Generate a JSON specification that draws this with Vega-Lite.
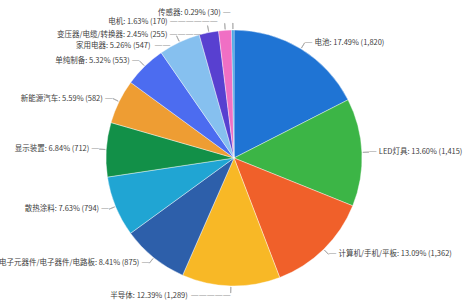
{
  "$schema": "https://vega.github.io/schema/vega-lite/v6.json",
  "width": 468,
  "height": 296,
  "autosize": {"type": "none"},
  "padding": {"left": 0, "top": 10, "right": 4, "bottom": 0},
  "background": "white",
  "view": {"stroke": null},
  "config": {"text": {"font": "Noto Sans CJK SC", "fontSize": 7.5, "color": "#404040"}},
  "data": {"values": [
    {"name": "电池", "pct": 17.49, "count": 1820},
    {"name": "LED灯具", "pct": 13.60, "count": 1415},
    {"name": "计算机/手机/平板", "pct": 13.09, "count": 1362},
    {"name": "半导体", "pct": 12.39, "count": 1289},
    {"name": "电子元器件/电子器件/电路板", "pct": 8.41, "count": 875},
    {"name": "散热涂料", "pct": 7.63, "count": 794},
    {"name": "显示装置", "pct": 6.84, "count": 712},
    {"name": "新能源汽车", "pct": 5.59, "count": 582},
    {"name": "单纯制备", "pct": 5.32, "count": 553},
    {"name": "家用电器", "pct": 5.26, "count": 547},
    {"name": "变压器/电缆/转换器", "pct": 2.45, "count": 255},
    {"name": "电机", "pct": 1.63, "count": 170},
    {"name": "传感器", "pct": 0.29, "count": 30}
  ]},
  "transform": [
    {"window": [{"op": "sum", "field": "count", "as": "cum"}], "sort": [{"field": "count", "order": "descending"}], "frame": [null, 0]},
    {"calculate": "datum.cum - datum.count", "as": "start"},
    {"calculate": "datum.cum - datum.count / 2", "as": "mid"},
    {"calculate": "datum.mid + 2", "as": "mid2"},
    {"joinaggregate": [{"op": "sum", "field": "count", "as": "total"}]},
    {"calculate": "datum.mid < datum.total / 2 ? 'R' : 'L'", "as": "side"},
    {"calculate": "datum.name + ': ' + format(datum.pct, '.2f') + '% (' + format(datum.count, ',') + ')'", "as": "label"}
  ],
  "layer": [
    {
      "mark": {"type": "arc", "outerRadius": 128, "stroke": "white", "strokeWidth": 0.4},
      "encoding": {
        "theta": {"field": "start", "type": "quantitative", "stack": null, "scale": {"domain": [0, 10404]}},
        "theta2": {"field": "cum"},
        "color": {"field": "name", "type": "nominal", "legend": null, "scale": {
          "domain": ["电池", "LED灯具", "计算机/手机/平板", "半导体", "电子元器件/电子器件/电路板", "散热涂料", "显示装置", "新能源汽车", "单纯制备", "家用电器", "变压器/电缆/转换器", "电机", "传感器"],
          "range": ["#1f74d4", "#3cb546", "#f0602a", "#f8b826", "#2d5faa", "#20a5d3", "#129048", "#ee9d33", "#4c6cf0", "#86c0ef", "#5840d0", "#f06fc4", "#39a0e0"]}}
      }
    },
    {
      "mark": {"type": "arc", "innerRadius": 129, "outerRadius": 135, "filled": false, "stroke": "#a8a8a8", "strokeWidth": 0.8},
      "encoding": {
        "theta": {"field": "mid", "type": "quantitative", "stack": null, "scale": {"domain": [0, 10404]}},
        "theta2": {"field": "mid2"}
      }
    },
    {
      "transform": [{"filter": "datum.side == 'R'"}],
      "mark": {"type": "text", "radius": 135, "align": "left", "baseline": "middle", "font": "DejaVu Sans", "fontSize": 8, "color": "#a8a8a8", "text": "—"},
      "encoding": {"theta": {"field": "mid", "type": "quantitative", "stack": null, "scale": {"domain": [0, 10404]}}}
    },
    {
      "transform": [{"filter": "datum.side == 'R'"}],
      "mark": {"type": "text", "radius": 135, "align": "left", "baseline": "middle", "dx": 10},
      "encoding": {
        "theta": {"field": "mid", "type": "quantitative", "stack": null, "scale": {"domain": [0, 10404]}},
        "text": {"field": "label"}
      }
    },
    {
      "transform": [{"filter": {"field": "name", "oneOf": ["电子元器件/电子器件/电路板", "散热涂料", "显示装置", "新能源汽车", "单纯制备"]}}],
      "mark": {"type": "text", "radius": 135, "align": "right", "baseline": "middle", "font": "DejaVu Sans", "fontSize": 8, "color": "#a8a8a8", "text": "—"},
      "encoding": {"theta": {"field": "mid", "type": "quantitative", "stack": null, "scale": {"domain": [0, 10404]}}}
    },
    {
      "transform": [{"filter": {"field": "name", "oneOf": ["电子元器件/电子器件/电路板", "散热涂料", "显示装置", "新能源汽车", "单纯制备"]}}],
      "mark": {"type": "text", "radius": 135, "align": "right", "baseline": "middle", "dx": -10},
      "encoding": {
        "theta": {"field": "mid", "type": "quantitative", "stack": null, "scale": {"domain": [0, 10404]}},
        "text": {"field": "label"}
      }
    },
    {
      "transform": [{"filter": "datum.name == '半导体'"}],
      "mark": {"type": "text", "radius": 135, "align": "right", "baseline": "middle", "dy": 3, "font": "DejaVu Sans", "fontSize": 8, "color": "#a8a8a8", "text": "—————"},
      "encoding": {"theta": {"field": "mid", "type": "quantitative", "stack": null, "scale": {"domain": [0, 10404]}}}
    },
    {
      "transform": [{"filter": "datum.name == '半导体'"}],
      "mark": {"type": "text", "radius": 135, "align": "right", "baseline": "middle", "dx": -43, "dy": 3},
      "encoding": {
        "theta": {"field": "mid", "type": "quantitative", "stack": null, "scale": {"domain": [0, 10404]}},
        "text": {"field": "label"}
      }
    },
    {
      "transform": [{"filter": "datum.name == '家用电器'"}],
      "mark": {"type": "text", "radius": 135, "align": "right", "baseline": "middle", "dx": -6, "dy": 10, "font": "DejaVu Sans", "fontSize": 8, "color": "#a8a8a8", "text": "——"},
      "encoding": {"theta": {"field": "mid", "type": "quantitative", "stack": null, "scale": {"domain": [0, 10404]}}}
    },
    {
      "transform": [{"filter": "datum.name == '家用电器'"}],
      "mark": {"type": "text", "radius": 135, "align": "right", "baseline": "middle", "dx": -26, "dy": 10},
      "encoding": {
        "theta": {"field": "mid", "type": "quantitative", "stack": null, "scale": {"domain": [0, 10404]}},
        "text": {"field": "label"}
      }
    },
    {
      "transform": [{"filter": "datum.name == '变压器/电缆/转换器'"}],
      "mark": {"type": "text", "radius": 135, "align": "right", "baseline": "middle", "dx": -6, "dy": 9, "font": "DejaVu Sans", "fontSize": 8, "color": "#a8a8a8", "text": "————"},
      "encoding": {"theta": {"field": "mid", "type": "quantitative", "stack": null, "scale": {"domain": [0, 10404]}}}
    },
    {
      "transform": [{"filter": "datum.name == '变压器/电缆/转换器'"}],
      "mark": {"type": "text", "radius": 135, "align": "right", "baseline": "middle", "dx": -40, "dy": 9},
      "encoding": {
        "theta": {"field": "mid", "type": "quantitative", "stack": null, "scale": {"domain": [0, 10404]}},
        "text": {"field": "label"}
      }
    },
    {
      "transform": [{"filter": "datum.name == '电机'"}],
      "mark": {"type": "text", "radius": 135, "align": "right", "baseline": "middle", "dx": -7, "dy": -1, "font": "DejaVu Sans", "fontSize": 8, "color": "#a8a8a8", "text": "——————"},
      "encoding": {"theta": {"field": "mid", "type": "quantitative", "stack": null, "scale": {"domain": [0, 10404]}}}
    },
    {
      "transform": [{"filter": "datum.name == '电机'"}],
      "mark": {"type": "text", "radius": 135, "align": "right", "baseline": "middle", "dx": -57, "dy": -1},
      "encoding": {
        "theta": {"field": "mid", "type": "quantitative", "stack": null, "scale": {"domain": [0, 10404]}},
        "text": {"field": "label"}
      }
    },
    {
      "transform": [{"filter": "datum.name == '传感器'"}],
      "mark": {"type": "text", "radius": 135, "align": "right", "baseline": "middle", "dx": -2, "dy": -10, "font": "DejaVu Sans", "fontSize": 8, "color": "#a8a8a8", "text": "—"},
      "encoding": {"theta": {"field": "mid", "type": "quantitative", "stack": null, "scale": {"domain": [0, 10404]}}}
    },
    {
      "transform": [{"filter": "datum.name == '传感器'"}],
      "mark": {"type": "text", "radius": 135, "align": "right", "baseline": "middle", "dx": -12, "dy": -10},
      "encoding": {
        "theta": {"field": "mid", "type": "quantitative", "stack": null, "scale": {"domain": [0, 10404]}},
        "text": {"field": "label"}
      }
    }
  ]
}
